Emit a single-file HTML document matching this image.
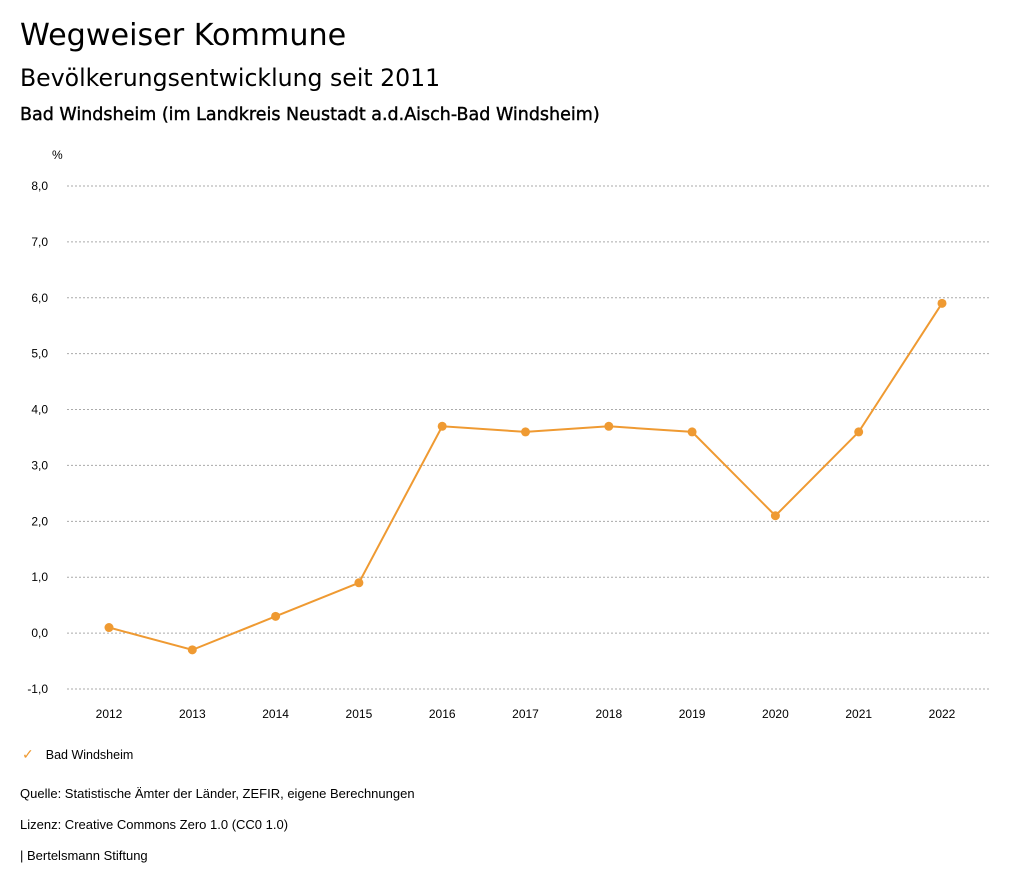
<!DOCTYPE html>
<html><head><meta charset="utf-8"><style>
body{margin:0;width:1024px;height:888px;background:#fff;font-family:"Liberation Sans",sans-serif;color:#000;position:relative;overflow:hidden}
.t{position:absolute;white-space:nowrap}
.d{font-family:"DejaVu Sans",sans-serif}
</style></head><body>
<div class="t d" style="left:20px;top:18px;font-size:30.2px">Wegweiser Kommune</div>
<div class="t d" style="left:20px;top:64px;font-size:23.6px">Bevölkerungsentwicklung seit 2011</div>
<div class="t d" style="left:20px;top:105px;font-size:17.5px;-webkit-text-stroke:0.4px #000">Bad Windsheim (im Landkreis Neustadt a.d.Aisch-Bad Windsheim)</div>
<svg id="chart" width="1024" height="888" style="position:absolute;left:0;top:0" font-family="Liberation Sans, sans-serif"></svg>
<div class="t" style="left:22px;top:746px;font-size:12.5px"><span style="color:#ef9a32;font-size:14px">✓</span><span style="margin-left:12px">Bad Windsheim</span></div>
<div class="t" style="left:20px;top:786px;font-size:13px">Quelle: Statistische Ämter der Länder, ZEFIR, eigene Berechnungen</div>
<div class="t" style="left:20px;top:817px;font-size:13px">Lizenz: Creative Commons Zero 1.0 (CC0 1.0)</div>
<div class="t" style="left:20px;top:848px;font-size:13px">| Bertelsmann Stiftung</div>
<script>
const years=[2012,2013,2014,2015,2016,2017,2018,2019,2020,2021,2022];
const values=[0.1,-0.3,0.3,0.9,3.7,3.6,3.7,3.6,2.1,3.6,5.9];
const yTicks=[-1,0,1,2,3,4,5,6,7,8];
const tickLabels=["-1,0","0,0","1,0","2,0","3,0","4,0","5,0","6,0","7,0","8,0"];
const svg=document.getElementById('chart');
const NS='http://www.w3.org/2000/svg';
const y=v=>633.1-(v)*55.89;
const x=i=>109+i*83.3;
function mk(t,a){const e=document.createElementNS(NS,t);for(const k in a)e.setAttribute(k,a[k]);svg.appendChild(e);return e;}
const u=mk('text',{x:52,y:159,'font-size':12});u.textContent='%';


yTicks.forEach((v,i)=>{
  const l=mk('line',{x1:67,x2:990,y1:y(v),y2:y(v),stroke:'#aaa','stroke-dasharray':'2,2','stroke-width':1});
  
  
  const t=mk('text',{x:48,y:y(v)+4,'font-size':12,'text-anchor':'end'});t.textContent=tickLabels[i];
  
  
});
years.forEach((yr,i)=>{
  const t=mk('text',{x:x(i),y:718,'font-size':12,'text-anchor':'middle'});t.textContent=yr;
  
  
});
const p=mk('polyline',{points:values.map((v,i)=>x(i)+','+y(v)).join(' '),fill:'none',stroke:'#ef9a32','stroke-width':2});


values.forEach((v,i)=>{
  const c=mk('circle',{cx:x(i),cy:y(v),r:4.5,fill:'#ef9a32'});
  
  
});
</script>
</body></html>
